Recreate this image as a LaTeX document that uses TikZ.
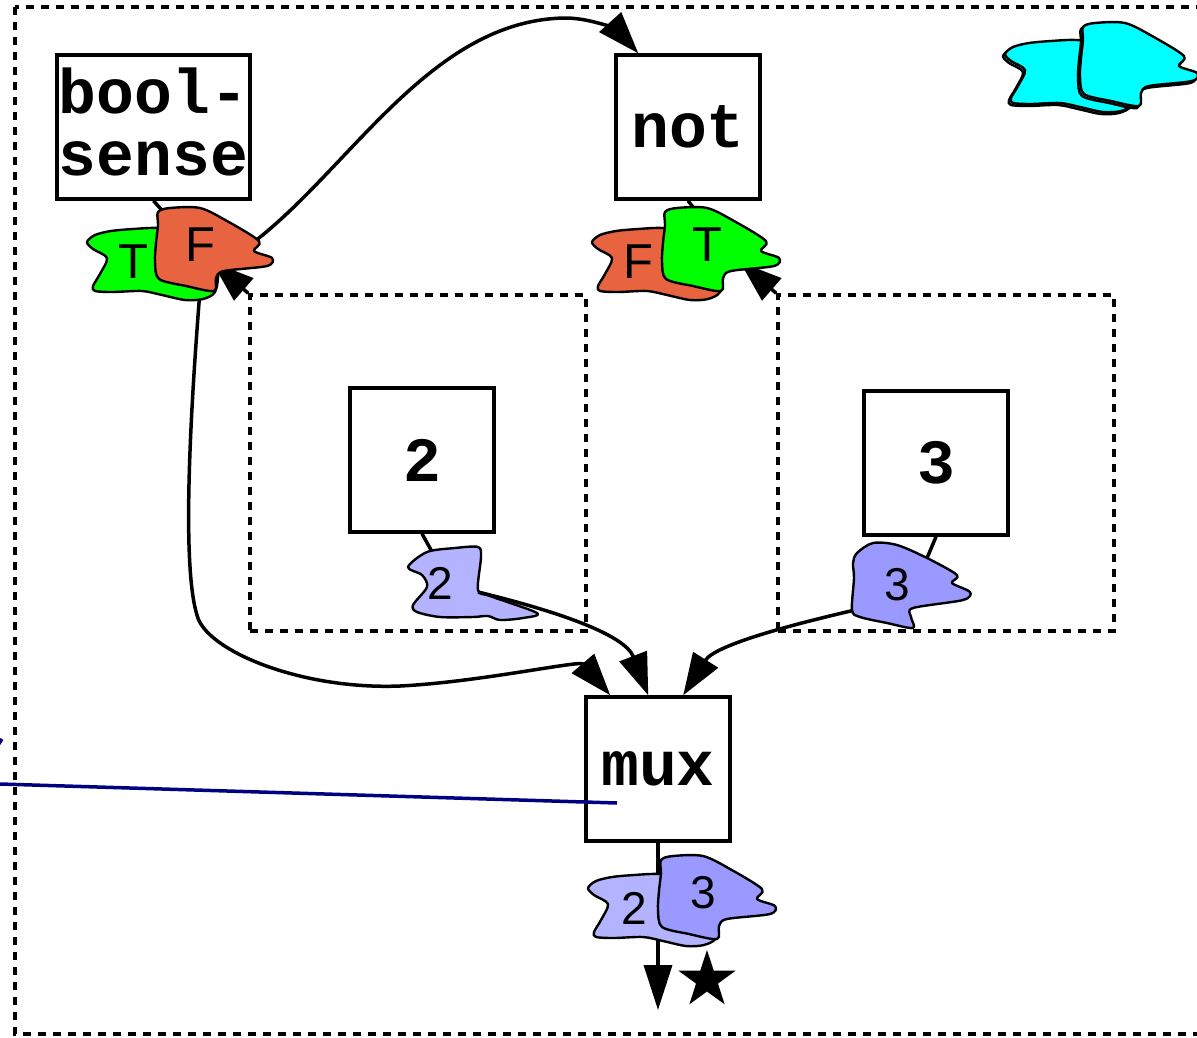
\documentclass[tikz,border=0pt]{standalone}
\usepackage{fontspec}
\newfontfamily\monob{Liberation Mono}
\newfontfamily\blobsans{Liberation Sans}
\usetikzlibrary{arrows.meta,shapes.geometric}

\definecolor{tgreen}{HTML}{00FF00}
\definecolor{fred}{HTML}{E8633F}
\definecolor{lav}{HTML}{B3B3FF}
\definecolor{peri}{HTML}{9999FF}
\definecolor{cyanblob}{HTML}{00FFFF}
\definecolor{navyline}{HTML}{000080}

\tikzset{
  fbox/.style={draw, line width=3.5pt, fill=white, minimum width=144pt,
    minimum height=144pt, inner sep=0pt},
  boxtext/.style={font=\monob\bfseries\fontsize{63}{62}\selectfont,
    inner sep=0pt, align=center},
  blobtext/.style={font=\blobsans\fontsize{49}{49}\selectfont, inner sep=0pt},
  dashframe/.style={line width=3.5pt, dash pattern=on 8pt off 7pt},
  dashbox/.style={draw, dashframe, minimum width=336pt, minimum height=336pt,
    inner sep=0pt},
  wire/.style={line width=3.5pt},
  bigtip/.style={-{Triangle[length=42pt,width=29pt]}},
  blobline/.style={line width=2.4pt, line join=round},
  % wide blob with a notch on its left side
  pics/blobA/.style={code={
    \filldraw[blobline, fill=#1] plot[smooth cycle] coordinates {
      (-46,-20) (-38,-27) (-22,-31) (0,-33) (25,-34) (55,-30) (78,-15)
      (85,10) (82,30) (70,37) (52,38) (29,33) (9,29) (-20,30) (-38,29)
      (-40,24) (-33,12) (-26,-4) (-40,-13)};
  }},
  % blob with a pointed, notched right side
  pics/blobB/.style={code={
    \filldraw[blobline, fill=#1] plot[smooth cycle] coordinates {
      (-42,-33) (-30,-37) (0,-37) (27,-24) (59,-4) (54,6) (72,13) (67,21)
      (24,26) (16,33) (14,46) (-14,41) (-41,34) (-45,17) (-44,-2) (-42,-20)};
  }},
}

\begin{document}
\begin{tikzpicture}[x=1pt,y=-1pt]
\useasboundingbox (0,0) rectangle (1197,1037);

% enclosing dashed frames
\draw[dashframe] (15,7) rectangle (1240,1034);
\node[dashbox] (grp2) at (418,463) {};
\node[dashbox] (grp3) at (946,463) {};

% operator boxes
\node[fbox, minimum width=193pt] (bs) at (153.5,127) {};
\node[boxtext] (bstext) at (153.5,122) {bool-\\sense};
\node[fbox] (not) at (688,127) {};
\node[boxtext] (nottext) at (688,127) {not};
\node[fbox] (b2) at (422,460) {};
\node[boxtext] (b2text) at (422,460) {2};
\node[fbox] (b3) at (936,463) {};
\node[boxtext] (b3text) at (936,463) {3};
\node[fbox] (mux) at (658,769) {};
\node[boxtext] (muxtext) at (658,769) {mux};

% connection points
\coordinate (bsTeth) at (175,225);
\coordinate (notTeth) at (705,222);
\coordinate (b2Teth) at (440,566);
\coordinate (b3Teth) at (922,570);
\coordinate (bsFout) at (250,245);
\coordinate (bsFbot) at (200,290);
\coordinate (n2out) at (478,592);
\coordinate (n3out) at (855,610);
\coordinate (lcTip) at (212,262);
\coordinate (rcTip) at (740,262);
\coordinate (muxout) at (658,1010);

% tethers from boxes to their value blobs
\draw[wire] (bs.south) -- (bsTeth);
\draw[wire] (not.south) -- (notTeth);
\draw[wire] (b2.south) -- (b2Teth);
\draw[wire] (b3.south) -- (b3Teth);

% data flow
\draw[wire, bigtip] (bsFout) .. controls (350,170) and (430,20) .. (565,18)
  .. controls (595,18) and (620,33) .. ([xshift=24pt]not.north west);
\draw[wire, bigtip] (bsFbot) .. controls (193,380) and (180,560) .. (197,615)
  .. controls (205,650) and (300,690) .. (400,686)
  .. controls (480,682) and (580,660) .. ([xshift=26pt]mux.north west);
\draw[wire, bigtip] (n3out) .. controls (790,625) and (715,645) .. ([xshift=99pt]mux.north west);
\draw[wire, bigtip] (grp2.north west) -- (lcTip);
\draw[wire, bigtip] (grp3.north west) -- (rcTip);
\draw[wire, -{Triangle[length=45pt,width=28pt]}] (mux.south) -- (muxout);

% value blobs
\pic at (133,262) {blobA=tgreen};
\pic at (200,245) {blobB=fred};
\node[blobtext] (bsT) at (133,262) {T};
\node[blobtext] (bsF) at (200,245) {F};

\pic at (638,262) {blobA=fred};
\pic at (707,245) {blobB=tgreen};
\node[blobtext] (notF) at (638,262) {F};
\node[blobtext] (notT) at (707,245) {T};

\filldraw[blobline, fill=lav] plot[smooth cycle] coordinates {
  (408,567) (427,552) (455,548) (478,547) (481,557) (478,590) (490,596)
  (537,613) (523,618) (500,620) (488,616) (473,617) (440,617) (417,612)
  (413,605) (427,587) (422,575)};
\node[blobtext, font=\blobsans\fontsize{46}{46}\selectfont] (v2) at (440,583) {2};

\filldraw[blobline, fill=peri] plot[smooth cycle] coordinates {
  (857,553) (873,543) (897,545) (927,558) (957,575) (952,583) (970,592)
  (963,600) (913,608) (911,617) (913,628) (887,623) (860,617) (852,610)
  (854,578) (853,563)};
\node[blobtext, font=\blobsans\fontsize{46}{46}\selectfont] (v3) at (897,585) {3};

\pic at (634,908) {blobA=lav};
\pic at (703,893) {blobB=peri};
\node[blobtext, font=\blobsans\fontsize{46}{46}\selectfont] (m2) at (634,908) {2};
\node[blobtext, font=\blobsans\fontsize{46}{46}\selectfont] (m3) at (703,893) {3};

% cyan cloud
\pic at (1049,76) {blobA=cyanblob};
\pic at (1051,74) {blobA=cyanblob};
\pic at (1123,62) {blobB=cyanblob};
\pic at (1125,60) {blobB=cyanblob};

% flow from the "2" value
\draw[wire, bigtip] (n2out) .. controls (560,612) and (625,635) .. ([xshift=64pt]mux.north west);

% marker below mux
\node[star, star points=5, star point ratio=2.6, fill=black, minimum size=60pt,
  inner sep=0pt] (starmark) at (707,980) {};

% pointer line into mux
\coordinate (ptrStart) at (0,784);
\coordinate (ptrEnd) at (617,803);
\draw[line width=3.5pt, navyline] (ptrStart) -- (ptrEnd);
\coordinate (tickA) at (-4,748);
\coordinate (tickB) at (2,739);
\draw[line width=3.5pt, navyline] (tickA) -- (tickB);
\end{tikzpicture}
\end{document}
